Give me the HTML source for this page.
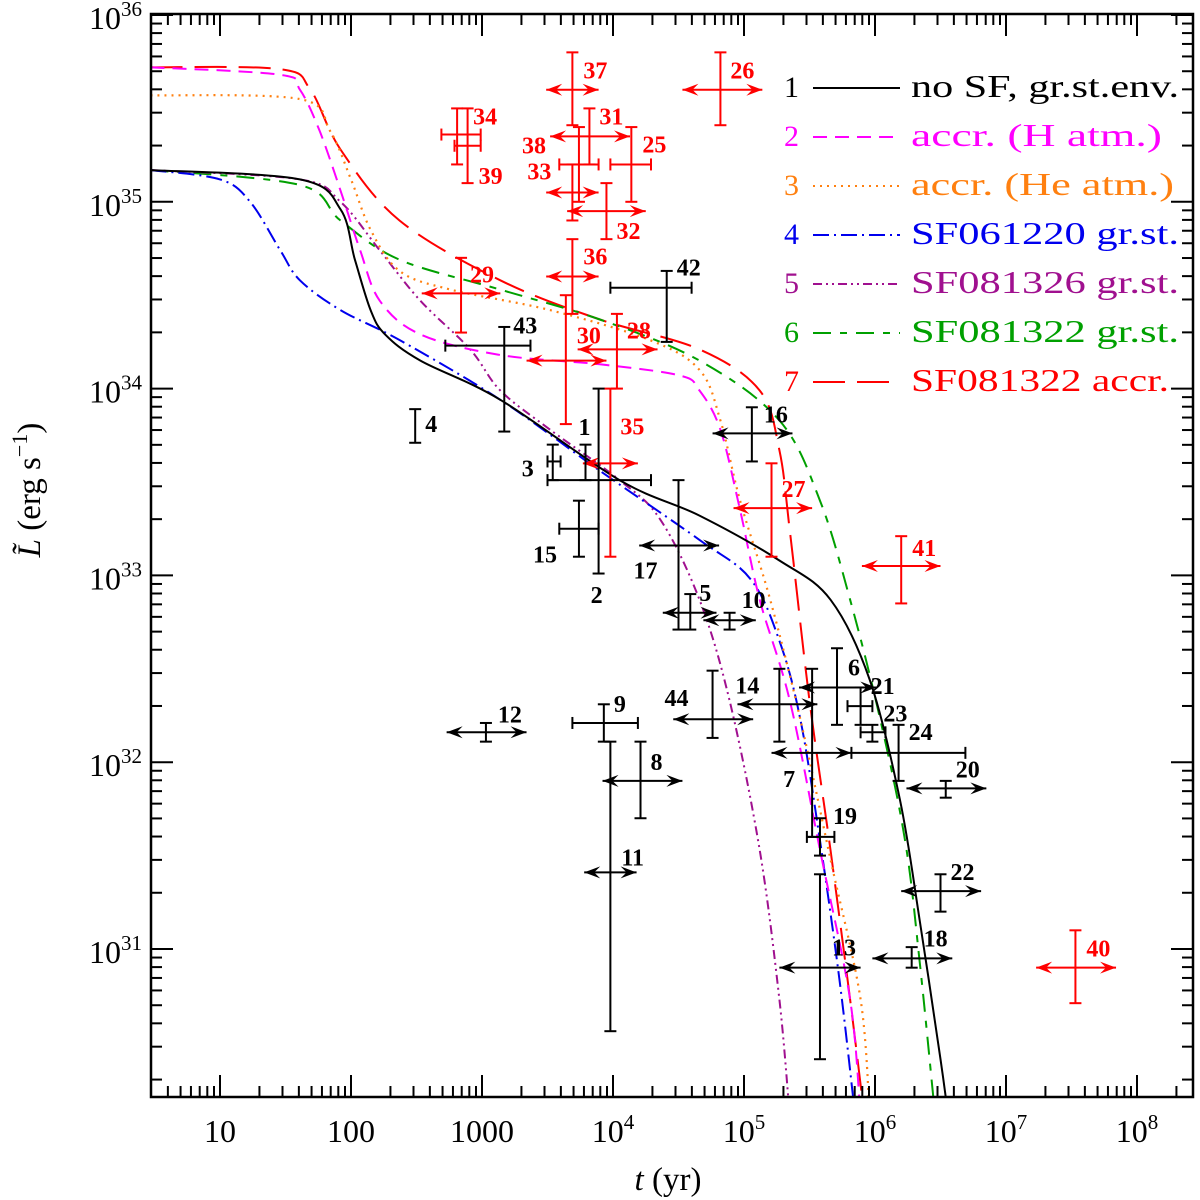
<!DOCTYPE html>
<html><head><meta charset="utf-8"><style>
html,body{margin:0;padding:0;background:#fff;}
svg{display:block;font-family:"Liberation Serif","DejaVu Serif",serif;}
</style></head><body>
<svg id="chart" width="1200" height="1200" viewBox="0 0 1200 1200" xmlns="http://www.w3.org/2000/svg">
<defs><clipPath id="plotclip"><rect x="151" y="14" width="1042" height="1083"/></clipPath></defs>
<rect x="0" y="0" width="1200" height="1200" fill="#fff"/>
<g id="curves" clip-path="url(#plotclip)"></g>
<g id="points"></g>
<g id="axes"></g>
<g id="legend"></g>
<text x="668" y="1190" font-size="33" text-anchor="middle"><tspan font-style="italic">t</tspan>  (yr)</text>
<text transform="translate(40,490) rotate(-90)" font-size="33" text-anchor="middle"><tspan font-style="italic">L̃</tspan>  (erg s<tspan dy="-13" font-size="22">−1</tspan><tspan dy="13">)</tspan></text>
</svg>
<script>
// ---- data (log10 t, log10 L) ----
const xTickLabels = ["10","100","1000","10^4","10^5","10^6","10^7","10^8"];
const xTickExps = [1,2,3,4,5,6,7,8];
const yTickExps = [31,32,33,34,35,36];

const c1t = [0.47,1.61,1.92,2.03,2.15,2.26,2.53,3.14,4.05,4.66,5.27,5.66,5.96,6.19,6.34,6.50,6.56];
const c1L = [35.17,35.12,34.96,34.69,34.42,34.29,34.15,33.94,33.51,33.32,33.08,32.87,32.44,31.80,31.16,30.41,30.1];
const c2t = [0.47,1.46,1.61,1.76,1.92,2.07,2.22,2.53,3.14,3.90,4.51,4.66,4.82,4.97,5.12,5.35,5.58,5.81,5.89];
const c2L = [35.72,35.68,35.60,35.38,35.06,34.74,34.47,34.29,34.18,34.13,34.07,33.99,33.78,33.35,32.87,32.33,31.53,30.73,30.1];
const c3t = [0.47,1.61,1.84,2.00,2.15,2.37,2.76,3.52,4.28,4.66,4.82,4.97,5.20,5.43,5.66,5.89,5.96];
const c3L = [35.57,35.55,35.38,35.12,34.85,34.63,34.53,34.42,34.26,34.10,33.83,33.40,32.87,32.23,31.48,30.73,30.1];
const c4t = [0.47,1.00,1.23,1.46,1.61,1.92,2.37,3.14,3.90,4.66,5.05,5.27,5.43,5.58,5.73,5.85];
const c4L = [35.17,35.12,35.00,34.74,34.58,34.42,34.26,33.94,33.56,33.19,32.98,32.65,32.23,31.58,30.83,30.1];
const c5t = [0.47,1.61,1.92,2.22,2.53,2.91,3.14,3.52,4.05,4.36,4.66,4.89,5.12,5.27,5.35];
const c5L = [35.17,35.12,35.00,34.74,34.47,34.21,33.99,33.78,33.51,33.30,32.87,32.33,31.53,30.73,30.1];
const c6t = [0.47,1.61,1.92,2.37,3.14,3.90,4.66,5.27,5.58,5.81,6.04,6.23,6.34,6.46];
const c6L = [35.17,35.09,34.90,34.69,34.53,34.37,34.15,33.83,33.40,32.87,32.23,31.58,30.94,30.1];
const c7t = [0.47,1.46,1.69,1.92,2.37,3.14,3.90,4.66,5.12,5.27,5.35,5.50,5.66,5.81,5.92];
const c7L = [35.72,35.71,35.60,35.28,34.90,34.58,34.37,34.21,33.99,33.67,33.24,32.33,31.53,30.73,30.1];

const legendNums = ["1","2","3","4","5","6","7"];
const legendTexts = ["no SF, gr.st.env.","accr. (H  atm.)","accr. (He atm.)","SF061220 gr.st.","SF081326 gr.st.","SF081322 gr.st.","SF081322 accr."];
const legendWidths = [268,251,263,268,268,268,258];

// observed sources
const ptLabels = ["37","26","34","39","31","38","33","25","32","36","29","30","28","35","27","41","40",
  "42","43","4","16","1","3","2","15","17","5","10","44","14","12","9","11","8","7","6","21","23","24","20","19","22","18","13"];
const ptRed = [1,1,1,1,1,1,1,1,1,1,1,1,1,1,1,1,1, 0,0,0,0,0,0,0,0,0,0,0,0,0,0,0,0,0,0,0,0,0,0,0,0,0,0,0];
const ptT = [3.69,4.82,2.81,2.89,3.82,3.74,3.69,4.14,3.95,3.69,2.84,3.64,4.03,3.98,5.21,6.20,7.53,
  4.41,3.17,2.49,5.06,3.79,3.54,3.89,3.74,4.50,4.59,4.89,4.76,5.27,3.03,3.93,3.98,4.21,5.52,5.71,5.89,5.98,6.18,6.54,5.58,6.50,6.28,5.58];
const ptL = [35.60,35.60,35.36,35.30,35.20,35.35,35.05,35.20,34.95,34.60,34.51,34.15,34.21,33.60,33.36,33.05,30.90,
  34.54,34.23,33.80,33.76,33.51,33.61,33.51,33.25,33.16,32.80,32.76,32.23,32.31,32.16,32.21,31.41,31.90,32.05,32.40,32.30,32.16,32.05,31.86,31.60,31.31,30.95,30.90];
const ptTlo = [3.49,4.53,2.69,2.79,3.59,3.52,3.49,3.98,3.65,3.49,2.54,3.34,3.73,3.77,4.92,5.90,7.23,
  3.98,2.72,null,4.76,3.50,3.50,null,3.59,4.20,4.38,4.69,4.46,4.95,2.73,3.69,3.78,3.92,5.21,5.42,5.79,5.89,5.82,6.24,5.48,6.20,5.98,5.27];
const ptThi = [3.89,5.14,2.99,2.99,3.89,4.13,3.89,4.29,4.25,3.89,3.14,3.95,4.34,4.19,5.52,6.50,7.84,
  4.60,3.37,null,5.37,4.29,3.60,null,3.89,4.81,4.79,5.09,5.07,5.56,3.34,4.19,4.18,4.53,5.82,6.01,5.98,6.08,6.69,6.85,5.69,6.81,6.59,5.89];
const ptArrow = [1,1,0,0,0,1,1,0,1,1,1,1,1,1,1,1,1, 0,0,0,1,0,0,0,0,1,1,1,1,1,1,0,1,1,1,1,0,0,0,1,0,1,1,1];
const ptLlo = [35.41,35.41,35.20,35.10,35.20,35.00,34.90,35.00,34.80,34.40,34.30,33.81,34.00,33.10,33.10,32.85,30.71,
  34.25,33.77,33.71,33.61,33.51,33.51,33.01,33.10,32.71,32.71,32.71,32.13,32.11,32.11,32.11,30.56,31.70,31.60,32.20,32.20,32.11,31.90,31.81,31.50,31.20,30.90,30.41];
const ptLhi = [35.80,35.80,35.50,35.50,35.50,35.40,35.20,35.40,35.10,34.80,34.70,34.50,34.40,34.00,33.60,33.21,31.10,
  34.63,34.33,33.89,33.90,33.70,33.70,34.00,33.40,33.51,32.90,32.80,32.49,32.50,32.21,32.31,32.11,32.11,32.50,32.61,32.40,32.20,32.20,31.90,31.70,31.40,31.01,31.40];
// label offsets (pixels, styling)
const labelDx = [11,10,16,11,10,-57,-45,11,10,11,9,11,10,10,10,11,11, 10,9,10,12,-7,-31,-8,-46,-45,9,12,-48,-44,12,10,11,10,-29,11,10,11,10,10,13,10,12,12];
const labelDy = [-12,-12,-11,37,-41,16,-14,-13,27,-13,-12,-18,-12,-30,-12,-11,-12, -13,-13,5,-12,-46,14,122,33,32,-13,-13,-14,-12,-11,-12,-8,-12,33,-13,-13,-12,-14,-12,-14,-12,-13,-13];

// ---- axes ----
const X0=151, X1=1193, Y0=14, Y1=1097;
function xs(lt){return 220+131*(lt-1);}
function ys(lL){return 15+186.8*(36-lL);}
const NS="http://www.w3.org/2000/svg";
function el(tag,attrs,parent){const e=document.createElementNS(NS,tag);for(const k in attrs)e.setAttribute(k,attrs[k]);parent.appendChild(e);return e;}
const axes=document.getElementById('axes');
const frame=el('rect',{x:X0,y:Y0,width:X1-X0,height:Y1-Y0,fill:'none',stroke:'#000','stroke-width':2.5},axes);


for(let d=0;d<=8;d++){for(let m=1;m<=9;m++){const lt=d+Math.log10(m);const x=xs(lt);if(x<X0+1||x>X1-1)continue;const len=m===1?22:11;
  const t1=el('line',{x1:x,y1:Y1,x2:x,y2:Y1-len,stroke:'#000','stroke-width':2},axes);
  
  
  const t2=el('line',{x1:x,y1:Y0,x2:x,y2:Y0+len,stroke:'#000','stroke-width':2},axes);
  
  }}
for(let d=30;d<=36;d++){for(let m=1;m<=9;m++){const lL=d+Math.log10(m);const y=ys(lL);if(y<Y0+1||y>Y1-1)continue;const len=m===1?22:11;
  const t1=el('line',{x1:X0,y1:y,x2:X0+len,y2:y,stroke:'#000','stroke-width':2},axes);
  
  
  const t2=el('line',{x1:X1,y1:y,x2:X1-len,y2:y,stroke:'#000','stroke-width':2},axes);
  
  }}
xTickLabels.forEach((lab,i)=>{const x=xs(xTickExps[i]);const t=el('text',{x:x,y:1142,'font-size':32,'text-anchor':'middle'},axes);
  
  
  if(lab.indexOf('^')>=0){const p=lab.split('^');t.textContent=p[0];const s=el('tspan',{dy:-13,'font-size':21},t);s.textContent=p[1];}
  else t.textContent=lab;});
yTickExps.forEach(e=>{const y=ys(e);const t=el('text',{x:142,y:y+14,'font-size':32,'text-anchor':'end'},axes);
  
  
  t.textContent='10';const s=el('tspan',{dy:-13,'font-size':21},t);s.textContent=String(e);});

// ---- curves ----
const styles=[
 {c:'#000000',d:'none',w:2},
 {c:'#ff00ff',d:'14,8',w:2},
 {c:'#ff8010',d:'2,5',w:2.2},
 {c:'#0000ee',d:'16,5,2,5',w:2},
 {c:'#a0108f',d:'9,4,2,4,2,4',w:2},
 {c:'#00a000',d:'18,9,7,9',w:2},
 {c:'#ff0000',d:'32,12',w:2}];
const curvesT=[c1t,c2t,c3t,c4t,c5t,c6t,c7t], curvesL=[c1L,c2L,c3L,c4L,c5L,c6L,c7L];
const cg=document.getElementById('curves');
function pathFrom(T,L){const P=T.map((t,i)=>[xs(t),ys(L[i])]);let d='M'+P[0][0]+','+P[0][1];
 for(let i=0;i<P.length-1;i++){const p0=P[Math.max(0,i-1)],p1=P[i],p2=P[i+1],p3=P[Math.min(P.length-1,i+2)];
  const c1=[p1[0]+(p2[0]-p0[0])/6,p1[1]+(p2[1]-p0[1])/6],c2=[p2[0]-(p3[0]-p1[0])/6,p2[1]-(p3[1]-p1[1])/6];
  d+=' C'+c1[0].toFixed(1)+','+c1[1].toFixed(1)+' '+c2[0].toFixed(1)+','+c2[1].toFixed(1)+' '+p2[0].toFixed(1)+','+p2[1].toFixed(1);}
 return d;}
[6,5,4,3,2,1,0].forEach(i=>{const s=styles[i];const p=el('path',{d:pathFrom(curvesT[i],curvesL[i]),fill:'none',stroke:s.c,'stroke-width':s.w,'stroke-dasharray':s.d},cg);
  
  });

// ---- points ----
const pg=document.getElementById('points');
function line(g,x1,y1,x2,y2,c){el('line',{x1:x1,y1:y1,x2:x2,y2:y2,stroke:c,'stroke-width':2},g);}
function arrowHead(g,x,y,dir,c){el('path',{d:'M'+x+','+y+' L'+(x-dir*16)+','+(y-6)+' L'+(x-dir*10)+','+y+' L'+(x-dir*16)+','+(y+6)+' Z',fill:c},g);}
ptLabels.forEach((lab,i)=>{
  const c=ptRed[i]?'#ff0000':'#000000';
  const g=el('g',{},pg);
  
  
  const cx=xs(ptT[i]),cy=ys(ptL[i]);
  const ylo=ys(ptLlo[i]),yhi=ys(ptLhi[i]);
  line(g,cx,ylo,cx,yhi,c);line(g,cx-6,ylo,cx+6,ylo,c);line(g,cx-6,yhi,cx+6,yhi,c);
  if(ptTlo[i]!==null){const xl=xs(ptTlo[i]),xh=xs(ptThi[i]);
    line(g,xl,cy,xh,cy,c);
    if(ptArrow[i]){arrowHead(g,xl,cy,-1,c);arrowHead(g,xh,cy,1,c);}
    else{line(g,xl,cy-6,xl,cy+6,c);line(g,xh,cy-6,xh,cy+6,c);}}
  const t=el('text',{x:cx+labelDx[i],y:cy+labelDy[i]+1,'font-size':24,fill:c,'font-weight':'bold'},g);
  t.textContent=lab;
});

// ---- legend ----
const lg=document.getElementById('legend');
legendNums.forEach((n,i)=>{const y=88+49*i;const s=styles[i];
  const g=el('g',{},lg);
  
  
  const a=el('text',{x:784,y:y+9,'font-size':30,fill:s.c},g);a.textContent=n;
  el('line',{x1:813,y1:y,x2:900,y2:y,stroke:s.c,'stroke-width':2,'stroke-dasharray':s.d},g);
  const b=el('text',{x:911,y:y+9,'font-size':32,fill:s.c,textLength:legendWidths[i],lengthAdjust:'spacingAndGlyphs'},g);b.textContent=legendTexts[i];
});
</script>
</body></html>
